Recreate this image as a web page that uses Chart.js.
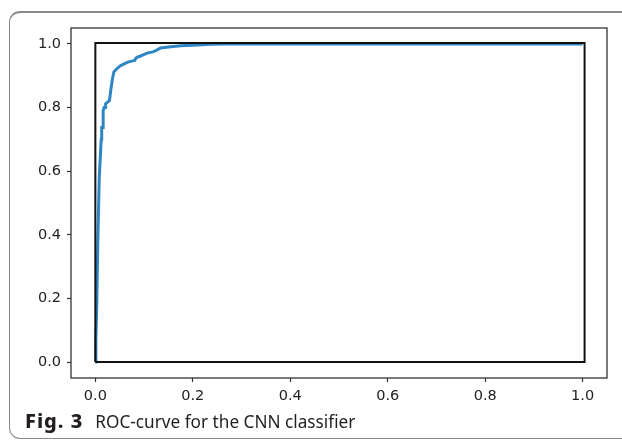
<!DOCTYPE html>
<html>
<head>
<meta charset="utf-8">
<script src="https://cdn.jsdelivr.net/npm/chart.js@4"></script>
<style>
  html, body { margin: 0; padding: 0; background: #fff; }
  body { width: 622px; height: 441px; position: relative; overflow: hidden; }
  .frame { position: absolute; left: 9px; top: 11px; width: 700px; height: 428px;
           border: 1.5px solid #8a8a8a; border-top-width: 2px; border-radius: 11px; box-sizing: border-box; }
  .plot { position: absolute; left: 0; top: 0; width: 622px; height: 441px; }
  .caption { position: absolute; left: 25px; top: 407px; font-family: "Noto Sans", sans-serif;
             font-size: 17.2px; color: #231f20; white-space: nowrap; }
  .caption b { font-size: 20px; font-weight: 800; margin-right: 12px; letter-spacing: 1px; }
</style>
</head>
<body>
<div class="frame"></div>
<div class="plot"><canvas id="roc"></canvas></div>
<div class="caption"><b>Fig. 3</b>ROC-curve for the CNN classifier</div>
<script>
// ROC curve (false positive rate vs true positive rate)
const fpr = [0, 0.001, 0.003, 0.005, 0.008, 0.012, 0.013, 0.016, 0.016, 0.018, 0.02, 0.021,
  0.029, 0.032, 0.035, 0.038, 0.046, 0.052, 0.06, 0.067, 0.074, 0.081, 0.083, 0.087, 0.093,
  0.099, 0.108, 0.118, 0.124, 0.134, 0.15, 0.175, 0.2, 0.236, 0.27, 0.35, 0.5, 0.7, 1.0];
const tpr = [0, 0.07, 0.19, 0.38, 0.58, 0.70, 0.737, 0.737, 0.79, 0.80, 0.80, 0.812,
  0.822, 0.859, 0.89, 0.912, 0.925, 0.932, 0.938, 0.943, 0.946, 0.948, 0.955, 0.959, 0.962,
  0.966, 0.972, 0.975, 0.979, 0.987, 0.99, 0.994, 0.996, 0.999, 1.0, 1.0, 1.0, 1.0, 1.0];
// black square drawn around the curve (its top/right sit just past 1.0)
const boxX = [0, 0, 1.004, 1.004, 0];
const boxY = [0, 1.003, 1.003, 0, 0];
const tickValues = [0, 0.2, 0.4, 0.6, 0.8, 1.0];

const frame = {
  id: 'frame',
  afterDraw(chart) {
    const a = chart.chartArea, c = chart.ctx;
    c.save();
    c.strokeStyle = '#333';
    c.lineWidth = 1.3;
    c.strokeRect(a.left, a.top, a.right - a.left, a.bottom - a.top);
    c.restore();
  }
};

const axis = (pos) => ({
  type: 'linear', position: pos, min: -0.05, max: 1.05,
  afterBuildTicks: s => { s.ticks = tickValues.map(v => ({ value: v })); },
  afterFit: s => { if (pos === 'left') s.width = 71; else s.height = 44; },
  grid: { display: true, drawOnChartArea: false, drawTicks: true, tickLength: 4, color: '#333', tickWidth: 1.2 },
  border: { display: false },
  ticks: { color: '#222', padding: 6, maxRotation: 0, font: { family: 'DejaVu Sans', size: 14.5 },
           callback: v => v.toFixed(1) }
});

new Chart(document.getElementById('roc'), {
  type: 'scatter',
  data: {
    datasets: [
      { data: fpr.map((x, i) => ({ x, y: tpr[i] })), showLine: true, borderColor: '#2f86c4',
        borderWidth: 3, pointRadius: 0, order: 2 },
      { data: boxX.map((x, i) => ({ x, y: boxY[i] })), showLine: true, borderColor: '#111',
        borderWidth: 2, pointRadius: 0, order: 1 }
    ]
  },
  options: {
    responsive: true, maintainAspectRatio: false, animation: false,
    layout: { padding: { left: 0, top: 28, right: 15, bottom: 19 } },
    plugins: { legend: { display: false }, tooltip: { enabled: false } },
    scales: { x: axis('bottom'), y: axis('left') }
  },
  plugins: [frame]
});
</script>
</body>
</html>
